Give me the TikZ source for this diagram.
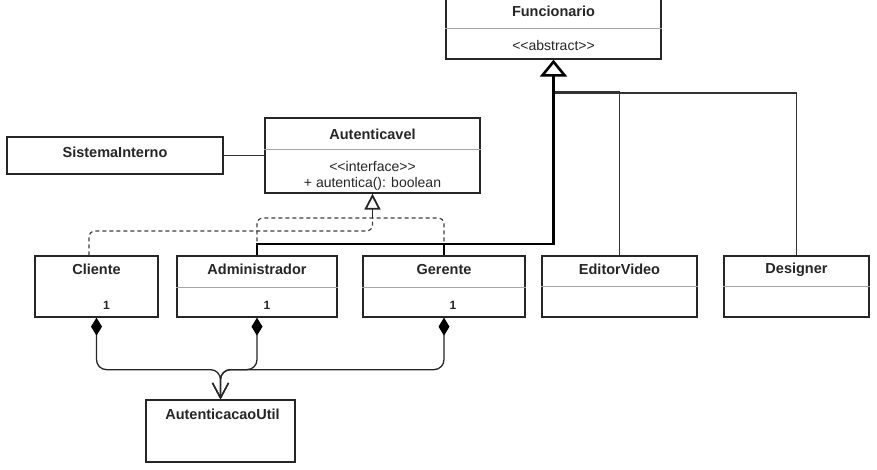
\documentclass[tikz,border=0pt]{standalone}
\usepackage{fontspec}
\setmainfont{Liberation Sans}
\usetikzlibrary{arrows.meta,calc}
\begin{document}
\begin{tikzpicture}[x=1pt,y=-1pt,
  umlbox/.style={draw=black!85, line width=1.3pt, rectangle, inner sep=0pt, fill=white},
  divider/.style={draw=black!35, line width=0.8pt},
  nm/.style={font=\fontsize{14.5}{16}\selectfont\bfseries, text=black!85, inner sep=0pt},
  tx/.style={font=\fontsize{14}{16}\selectfont, text=black!85, inner sep=0pt},
  mult/.style={font=\fontsize{12}{14}\selectfont\bfseries, text=black!85, inner sep=0pt},
  link/.style={draw=black!80, line width=1.2pt},
  genthick/.style={draw=black, line width=2.6pt},
  realize/.style={draw=black!75, line width=1.2pt, dash pattern=on 4pt off 3pt, rounded corners=6pt},
  comp/.style={draw=black!85, line width=1.3pt, rounded corners=10pt, {Diamond[length=18pt,width=11pt,color=black]}-{Straight Barb[length=15pt,width=16pt]}},
]
\useasboundingbox (0,0) rectangle (877,470);
\fill[white] (0,0) rectangle (877,470);

% ---- boxes ----
\node[umlbox, minimum width=215pt, minimum height=62pt] (fun) at (553.5,28) {};
\draw[divider] ([yshift=-32pt]fun.north west) -- ([yshift=-32pt]fun.north east);
\node[nm] (funN) at ([yshift=-15pt]fun.north) {Funcionario};
\node[tx] (funA) at ([yshift=-49pt]fun.north) {<{}<abstract>{}>};

\node[umlbox, minimum width=215pt, minimum height=75pt] (aut) at (372.5,155.5) {};
\draw[divider] ([yshift=-32pt]aut.north west) -- ([yshift=-32pt]aut.north east);
\node[nm] (autN) at ([yshift=-17pt]aut.north) {Autenticavel};
\node[tx] (autI) at ([yshift=-49pt]aut.north) {<{}<interface>{}>};
\node[tx] (autM) at ([yshift=-67pt]aut.north) {+ autentica(): boolean};

\node[umlbox, minimum width=216pt, minimum height=37pt] (sis) at (115,155.5) {};
\node[nm] (sisN) at ([yshift=3pt]sis.center) {SistemaInterno};

\node[umlbox, minimum width=123pt, minimum height=61pt] (cli) at (96.5,286.5) {};
\node[nm] (cliN) at ([yshift=-14pt]cli.north) {Cliente};
\node[mult] (cliM) at ([xshift=10pt,yshift=-50pt]cli.north) {1};

\node[umlbox, minimum width=160pt, minimum height=61pt] (adm) at (257,286.5) {};
\draw[divider] ([yshift=-32pt]adm.north west) -- ([yshift=-32pt]adm.north east);
\node[nm] (admN) at ([yshift=-14pt]adm.north) {Administrador};
\node[mult] (admM) at ([xshift=10pt,yshift=-50pt]adm.north) {1};

\node[umlbox, minimum width=162pt, minimum height=61pt] (ger) at (444,286.5) {};
\draw[divider] ([yshift=-32pt]ger.north west) -- ([yshift=-32pt]ger.north east);
\node[nm] (gerN) at ([yshift=-14pt]ger.north) {Gerente};
\node[mult] (gerM) at ([xshift=9pt,yshift=-50pt]ger.north) {1};

\node[umlbox, minimum width=155pt, minimum height=61pt] (edv) at (619.5,286.5) {};
\draw[divider] ([yshift=-31pt]edv.north west) -- ([yshift=-31pt]edv.north east);
\node[nm] (edvN) at ([yshift=-14pt]edv.north) {EditorVideo};

\node[umlbox, minimum width=145pt, minimum height=61pt] (des) at (796.5,286.5) {};
\draw[divider] ([yshift=-31pt]des.north west) -- ([yshift=-31pt]des.north east);
\node[nm] (desN) at ([yshift=-14pt]des.north) {Designer};

\node[umlbox, minimum width=149pt, minimum height=62pt] (util) at (220.5,431) {};
\node[nm] (utilN) at ([xshift=2pt,yshift=-15pt]util.north) {AutenticacaoUtil};

% ---- connectors ----
\coordinate (jf) at (553.5,244);
\coordinate (jt) at (553.5,92);
\coordinate (ja) at (372.5,218);
\coordinate (jc) at (372.5,231);

\draw[link] (sis.east) -- (aut.west);

% realization (dashed) to Autenticavel
\draw[realize] ([xshift=-7.5pt]cli.north) |- (jc) -- (ja);
\draw[realize] (adm.north) |- (ja);
\draw[realize] (ger.north) |- (ja);
\draw[draw=black!85, line width=1.8pt, -{Triangle[length=16pt,width=16pt,fill=white]}] (ja) -- (aut.south);

% generalization to Funcionario
\draw[link] (edv.north) |- (jt);
\draw[link] (des.north) |- ([yshift=-1pt]jt);
\draw[genthick, line width=1.6pt] (ger.north) -- (ger.north |- jf);
\draw[genthick, -{Triangle[length=17pt,width=27pt,fill=white]}] (adm.north) |- (jf) -- (fun.south);

% compositions to AutenticacaoUtil
\draw[comp] (cli.south) -- ++(0,52) -| (util.north);
\draw[comp] (adm.south) -- ++(0,52) -| (util.north);
\draw[comp] (ger.south) -- ++(0,52) -| (util.north);
\end{tikzpicture}
\end{document}
